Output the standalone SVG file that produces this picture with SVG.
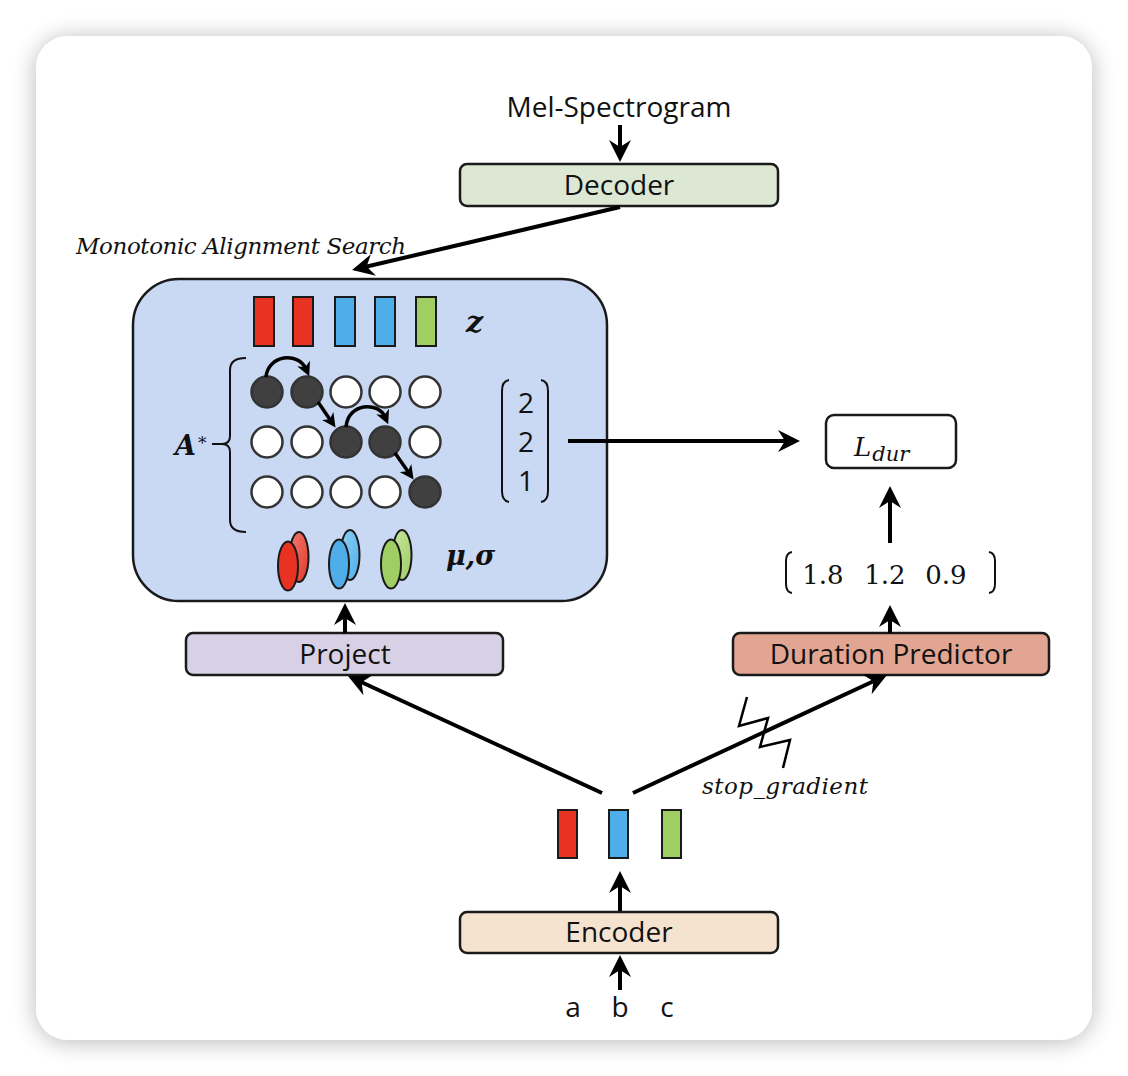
<svg xmlns="http://www.w3.org/2000/svg" width="1128" height="1076" viewBox="0 0 1128 1076">
<style>
.box{stroke:#1a1a1a;stroke-width:2.5}
.lbl{font-family:"Open Sans","Noto Sans","Liberation Sans",sans-serif;font-size:28px;fill:#111;text-anchor:middle}
.it{font-family:"DejaVu Serif","Liberation Serif",serif;font-style:italic;fill:#111}
.bi{font-family:"DejaVu Serif","Liberation Serif",serif;font-style:italic;font-weight:bold;fill:#111}
.num{font-family:"DejaVu Serif","Liberation Serif",serif;font-size:26px;fill:#111;text-anchor:middle}
.conn{stroke:#000;stroke-width:4;fill:none;marker-end:url(#ah)}
.sconn{stroke:#000;stroke-width:3.5;fill:none;marker-end:url(#ahs)}
.br{stroke:#111;stroke-width:2;fill:none}
.wc{fill:#fff;stroke:#333;stroke-width:2.5}
.dc{fill:#404040;stroke:#333;stroke-width:2.5}
.tok{stroke:#1a1a1a;stroke-width:2}
</style>
<defs>
<filter id="sh" x="-10%" y="-10%" width="120%" height="120%">
<feGaussianBlur in="SourceAlpha" stdDeviation="12"/>
<feOffset dx="0" dy="2" result="b"/>
<feComponentTransfer><feFuncA type="linear" slope="0.28"/></feComponentTransfer>
<feMerge><feMergeNode/><feMergeNode in="SourceGraphic"/></feMerge>
</filter>
<marker id="ah" markerUnits="userSpaceOnUse" viewBox="0 0 22 22" markerWidth="22" markerHeight="22" refX="10" refY="11" orient="auto">
<path d="M0,0 L22,11 L0,22 L7,11 Z" fill="#000"/>
</marker>
<marker id="ahs" markerUnits="userSpaceOnUse" viewBox="0 0 14 14" markerWidth="14" markerHeight="14" refX="6" refY="7" orient="auto">
<path d="M0,0 L14,7 L0,14 L4,7 Z" fill="#000"/>
</marker>
<linearGradient id="gr" x1="0" y1="0" x2="1" y2="1"><stop offset="0" stop-color="#f07a70"/><stop offset="1" stop-color="#e23a2c"/></linearGradient>
<linearGradient id="gb" x1="0" y1="0" x2="1" y2="1"><stop offset="0" stop-color="#8fd0f5"/><stop offset="1" stop-color="#4faee9"/></linearGradient>
<linearGradient id="gg" x1="0" y1="0" x2="1" y2="1"><stop offset="0" stop-color="#c8e6a0"/><stop offset="1" stop-color="#9fce63"/></linearGradient>
</defs>

<rect width="1128" height="1076" fill="#ffffff"/>
<rect x="36" y="36" width="1056" height="1004" rx="32" fill="#ffffff" filter="url(#sh)"/>

<g id="mel">
<text class="lbl" x="619" y="117" font-size="29">Mel-Spectrogram</text>
</g>

<g id="decoder">
<rect class="box" x="460" y="164" width="318" height="42" rx="7" fill="#dde8d4"/>
<text class="lbl" x="619" y="195">Decoder</text>
</g>

<g id="mas-label">
<text class="it" x="76" y="254" font-size="23" textLength="330" lengthAdjust="spacing">Monotonic Alignment Search</text>
</g>

<g id="mas">
<rect class="box" x="133" y="279" width="474" height="322" rx="46" fill="#c9d8f3"/>
<g id="z">
<rect class="tok" x="254" y="297" width="20" height="49" fill="#e83323"/>
<rect class="tok" x="293" y="297" width="20" height="49" fill="#e83323"/>
<rect class="tok" x="335" y="297" width="20" height="49" fill="#4faee9"/>
<rect class="tok" x="375" y="297" width="20" height="49" fill="#4faee9"/>
<rect class="tok" x="416" y="297" width="20" height="49" fill="#9fce63"/>
<text class="bi" x="466" y="332" font-size="30">z</text>
</g>
<g id="alignment">
<path class="br" d="M246,358 Q230,358 230,370 L230,436 Q230,444 222,444 L212,444 M222,444 Q230,444 230,452 L230,520 Q230,532 246,532" stroke-width="2.2"/>
<text class="bi" x="175" y="455" font-size="27">A</text>
<text x="198" y="449" font-family="DejaVu Serif, serif" font-size="17" fill="#111">*</text>
<circle class="dc" cx="267" cy="392" r="15.5"/>
<circle class="dc" cx="307" cy="392" r="15.5"/>
<circle class="wc" cx="346" cy="392" r="15.5"/>
<circle class="wc" cx="385" cy="392" r="15.5"/>
<circle class="wc" cx="425" cy="392" r="15.5"/>
<circle class="wc" cx="267" cy="442" r="15.5"/>
<circle class="wc" cx="307" cy="442" r="15.5"/>
<circle class="dc" cx="346" cy="442" r="15.5"/>
<circle class="dc" cx="385" cy="442" r="15.5"/>
<circle class="wc" cx="425" cy="442" r="15.5"/>
<circle class="wc" cx="267" cy="492" r="15.5"/>
<circle class="wc" cx="307" cy="492" r="15.5"/>
<circle class="wc" cx="346" cy="492" r="15.5"/>
<circle class="wc" cx="385" cy="492" r="15.5"/>
<circle class="dc" cx="425" cy="492" r="15.5"/>
</g>
<g id="durvec">
<path class="br" d="M509,380 Q502,381 502,391 L502,491 Q502,501 509,502"/>
<path class="br" d="M541,380 Q548,381 548,391 L548,491 Q548,501 541,502"/>
<text class="lbl" x="526" y="413">2</text>
<text class="lbl" x="526" y="452">2</text>
<text class="lbl" x="526" y="491">1</text>
</g>
<g id="musigma">
<ellipse cx="299" cy="557" rx="9.5" ry="25" fill="url(#gr)" stroke="#1a1a1a" stroke-width="2"/>
<ellipse cx="288" cy="566" rx="10" ry="24.5" fill="#e83323" stroke="#1a1a1a" stroke-width="2"/>
<ellipse cx="350" cy="555" rx="9.5" ry="25" fill="url(#gb)" stroke="#1a1a1a" stroke-width="2"/>
<ellipse cx="339" cy="564" rx="10" ry="24.5" fill="#4faee9" stroke="#1a1a1a" stroke-width="2"/>
<ellipse cx="402" cy="555" rx="9.5" ry="25" fill="url(#gg)" stroke="#1a1a1a" stroke-width="2"/>
<ellipse cx="391" cy="564" rx="10" ry="24.5" fill="#9fce63" stroke="#1a1a1a" stroke-width="2"/>
<text class="bi" x="446" y="565" font-size="27">μ,σ</text>
</g>
</g>

<g id="ldur">
<rect class="box" x="826" y="415" width="130" height="53" rx="8" fill="#ffffff" stroke-width="2"/>
<text class="it" x="854" y="456" font-size="26">L<tspan font-size="21" dy="5" dx="1">dur</tspan></text>
</g>

<g id="predvec">
<path class="br" d="M792,552 Q786,553 786,561 L786,584 Q786,592 792,593"/>
<path class="br" d="M989,552 Q995,553 995,561 L995,584 Q995,592 989,593"/>
<text class="num" x="823" y="584">1.8</text>
<text class="num" x="885" y="584">1.2</text>
<text class="num" x="946" y="584">0.9</text>
</g>

<g id="project">
<rect class="box" x="186" y="633" width="317" height="42" rx="7" fill="#d8d1e6"/>
<text class="lbl" x="345" y="664">Project</text>
</g>

<g id="durpred">
<rect class="box" x="733" y="633" width="316" height="42" rx="7" fill="#e2a591"/>
<text class="lbl" x="891" y="664">Duration Predictor</text>
</g>

<g id="stopgrad">
<polyline points="747,697 739,726 768,718 760,747 790,740 783,768" fill="none" stroke="#000" stroke-width="2.5"/>
<text class="it" x="702" y="794" font-size="23" textLength="166" lengthAdjust="spacing">stop_gradient</text>
</g>

<g id="enc-out">
<rect class="tok" x="558" y="810" width="19" height="48" fill="#e83323"/>
<rect class="tok" x="609" y="810" width="19" height="48" fill="#4faee9"/>
<rect class="tok" x="662" y="810" width="19" height="48" fill="#9fce63"/>
</g>

<g id="encoder">
<rect class="box" x="460" y="912" width="318" height="41" rx="7" fill="#f6e3cf"/>
<text class="lbl" x="619" y="942">Encoder</text>
</g>

<g id="input">
<text class="lbl" x="573" y="1017">a</text>
<text class="lbl" x="620" y="1017">b</text>
<text class="lbl" x="667" y="1017">c</text>
</g>

<g id="connectors">
<line class="conn" x1="620" y1="125" x2="620" y2="150"/>
<line class="conn" x1="620" y1="207" x2="363.7" y2="267.3"/>
<line class="conn" x1="568" y1="441" x2="788" y2="441"/>
<line class="conn" x1="890" y1="543" x2="890" y2="498"/>
<line class="conn" x1="890" y1="633" x2="890" y2="617"/>
<line class="conn" x1="345" y1="633" x2="345" y2="615"/>
<line class="conn" x1="602" y1="793" x2="358.9" y2="681"/>
<line class="conn" x1="633" y1="793" x2="876.1" y2="680"/>
<line class="conn" x1="620" y1="911" x2="620" y2="883"/>
<line class="conn" x1="620" y1="990" x2="620" y2="967"/>
<path class="sconn" d="M266,377 C268,355 298,351 306,369"/>
<path class="sconn" d="M346,427 C348,403 378,401 385,417"/>
<line class="sconn" x1="318" y1="402" x2="331" y2="421"/>
<line class="sconn" x1="395" y1="453" x2="409" y2="473"/>
</g>
</svg>
